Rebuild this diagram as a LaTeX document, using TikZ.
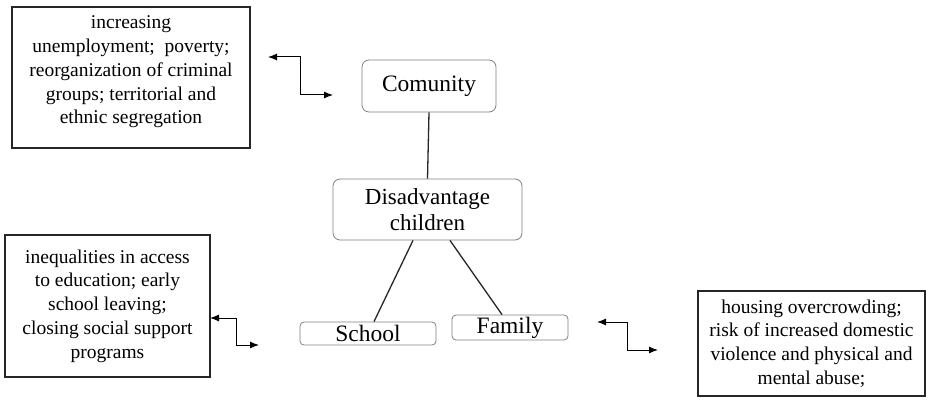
\documentclass[tikz,border=0pt]{standalone}
\usepackage{fontspec}
\setmainfont{Liberation Serif}
\usetikzlibrary{arrows.meta}
\begin{document}
\begin{tikzpicture}[x=1pt,y=-1pt,
  textbox/.style={draw=black!85,line width=1.6pt,align=center,inner sep=0pt,font=\fontsize{19.5}{23.8}\selectfont},
  roundbox/.style={draw=black!50,line width=0.8pt,rounded corners=7pt,align=center,inner sep=0pt},
  link/.style={line width=1.3pt,black!85},
  zig/.style={line width=1pt,{Latex[length=9pt,width=7pt]}-{Latex[length=9pt,width=7pt]}}]
\useasboundingbox (0,0) rectangle (936,401);
% text boxes
\node[textbox,minimum width=238pt,minimum height=141pt] (tl) at (131,77.5) {};
\node[align=center,inner sep=0pt,font=\fontsize{19.5}{23.8}\selectfont] (tlt) at (131,72) {increasing\\unemployment;\ \ poverty;\\reorganization of criminal\\groups; territorial and\\ethnic segregation};
\node[textbox,minimum width=205pt,minimum height=142pt] (bl) at (107.5,306) {inequalities in access\\to education; early\\school leaving;\\closing social support\\programs};
\node[textbox,minimum width=227pt,minimum height=105pt] (br) at (811.5,343.5) {housing overcrowding;\\risk of increased domestic\\violence and physical and\\mental abuse;};
% rounded nodes
\node[roundbox,minimum width=134pt,minimum height=52pt,font=\fontsize{23.5}{27}\selectfont] (com) at (429,86) {Comunity};
\node[roundbox,minimum width=189pt,minimum height=61pt,font=\fontsize{23}{25.5}\selectfont] (dis) at (427.5,209.5) {Disadvantage\\children};
\node[roundbox,rounded corners=4pt,minimum width=136pt,minimum height=23pt,font=\fontsize{23.5}{24}\selectfont] (sch) at (368,333.5) {School};
\node[roundbox,rounded corners=4pt,minimum width=116pt,minimum height=25pt,font=\fontsize{23.5}{24}\selectfont] (fam) at (510,327.5) {Family};
% connectors
\draw[link] (com.south) -- (dis.north);
\draw[link] ([xshift=-14.5pt]dis.south) -- ([xshift=6pt]sch.north);
\draw[link] ([xshift=22.5pt]dis.south) -- ([xshift=-8pt]fam.north);
% zigzag double arrows
\coordinate (a1s) at (268,57); \coordinate (a1e) at (333,95);
\coordinate (a2s) at (210,318); \coordinate (a2e) at (259,345);
\coordinate (a3s) at (597,322); \coordinate (a3e) at (658,350);
\draw[zig] (a1s) -- (300,57) -- (300,95) -- (a1e);
\draw[zig] (a2s) -- (236,318) -- (236,345) -- (a2e);
\draw[zig] (a3s) -- (627,322) -- (627,350) -- (a3e);
\end{tikzpicture}
\end{document}
